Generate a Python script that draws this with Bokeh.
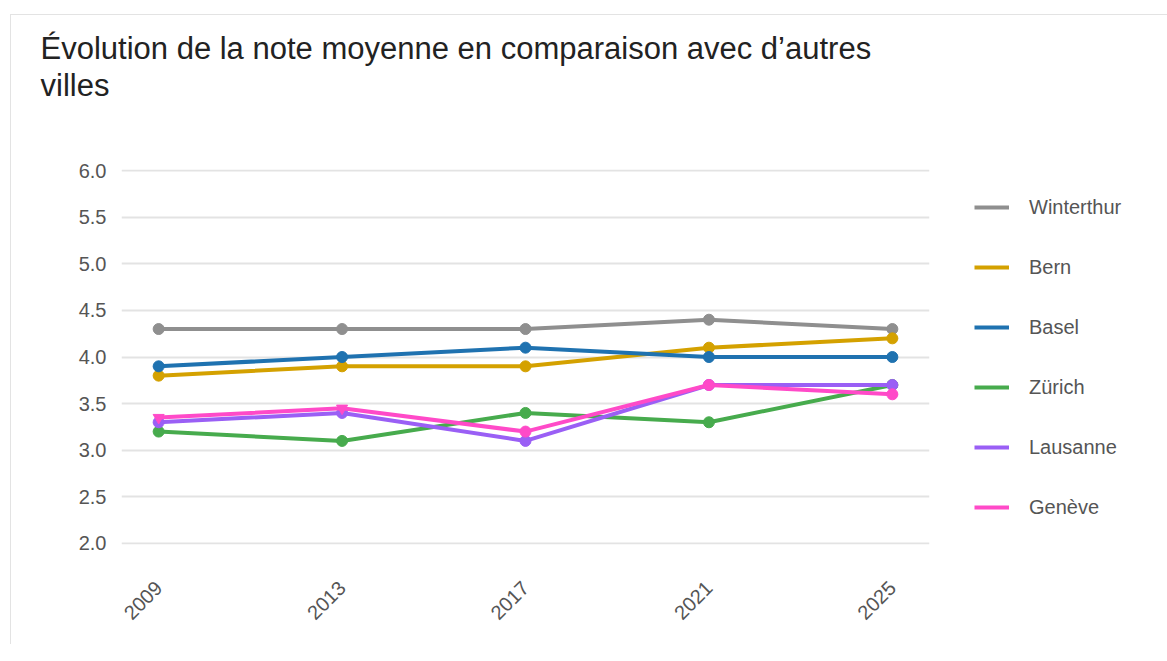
import math
from bokeh.plotting import figure
from bokeh.models import (ColumnDataSource, Legend, LegendItem, Title,
                          FixedTicker, NumeralTickFormatter, Range1d)
from bokeh.embed import file_html
from bokeh.resources import INLINE

years = [2009, 2013, 2017, 2021, 2025]
cities = ["Winterthur", "Bern", "Basel", "Zürich", "Lausanne", "Genève"]
winterthur = [4.3, 4.3, 4.3, 4.4, 4.3]
bern = [3.8, 3.9, 3.9, 4.1, 4.2]
basel = [3.9, 4.0, 4.1, 4.0, 4.0]
zurich = [3.2, 3.1, 3.4, 3.3, 3.7]
lausanne = [3.3, 3.4, 3.1, 3.7, 3.7]
geneve = [3.35, 3.45, 3.2, 3.7, 3.6]
geneve_markers = ["inverted_triangle", "inverted_triangle", "circle", "circle", "circle"]
y_ticks = [2.0, 2.5, 3.0, 3.5, 4.0, 4.5, 5.0, 5.5, 6.0]
title_text = "Évolution de la note moyenne en comparaison avec d\u2019autres\nvilles"

series = [winterthur, bern, basel, zurich, lausanne, geneve]
colors = ["#8f8f8f", "#d4a100", "#1f72b0", "#47ab4d", "#9a5ff5", "#ff4ac8"]
markers = [["circle"] * 5] * 5 + [geneve_markers]

FONT = "Liberation Sans"

p = figure(frame_width=808, frame_height=375, output_backend="svg", toolbar_location=None,
           x_range=Range1d(2008.19, 2025.81), y_range=Range1d(1.989, 6.011),
           min_border_left=110, min_border_right=230, min_border_bottom=100,
           min_border_top=154)
p.margin = (14, 0, 0, 10)
p.styles = {"border-top": "1px solid #e3e3e3", "border-left": "1px solid #e3e3e3"}

# spacer between the title and the plot area
p.add_layout(Title(text=" ", text_font_size="1px", standoff=58), "above")
p.add_layout(Title(text=title_text, text_font=FONT, text_font_size="31px",
                   text_font_style="normal", text_color="#222222", offset=-81,
                   text_line_height=1.07, standoff=10), "above")

items = []
for name, vals, col, mk in zip(cities, series, colors, markers):
    src = ColumnDataSource(dict(x=years, y=vals, m=mk))
    r = p.line("x", "y", source=src, line_color=col, line_width=4)
    p.scatter("x", "y", source=src, marker="m", size=11, fill_color=col,
              line_color=col)
    items.append(LegendItem(label=name, renderers=[r]))

legend = Legend(items=items, location="center_left", glyph_width=35, glyph_height=23,
                label_height=23, spacing=37, label_standoff=20,
                label_text_font=FONT, label_text_font_size="20px",
                label_text_color="#555555", border_line_color=None,
                background_fill_alpha=0, margin=45, padding=7)
p.add_layout(legend, "right")

p.outline_line_color = None
p.xgrid.grid_line_color = None
p.ygrid.grid_line_color = "#e3e3e3"
p.ygrid.grid_line_width = 2

p.xaxis.ticker = FixedTicker(ticks=years)
p.yaxis.ticker = FixedTicker(ticks=y_ticks)
p.yaxis.formatter = NumeralTickFormatter(format="0.0")
for ax in (p.xaxis, p.yaxis):
    ax.axis_line_color = None
    ax.major_tick_line_color = None
    ax.minor_tick_line_color = None
    ax.major_label_text_font = FONT
    ax.major_label_text_font_size = "20px"
    ax.major_label_text_color = "#555555"
p.yaxis.major_label_standoff = 9
p.xaxis.major_label_orientation = math.pi / 4
p.xaxis.major_label_standoff = 34

open("out.html", "w").write(file_html(p, INLINE))
